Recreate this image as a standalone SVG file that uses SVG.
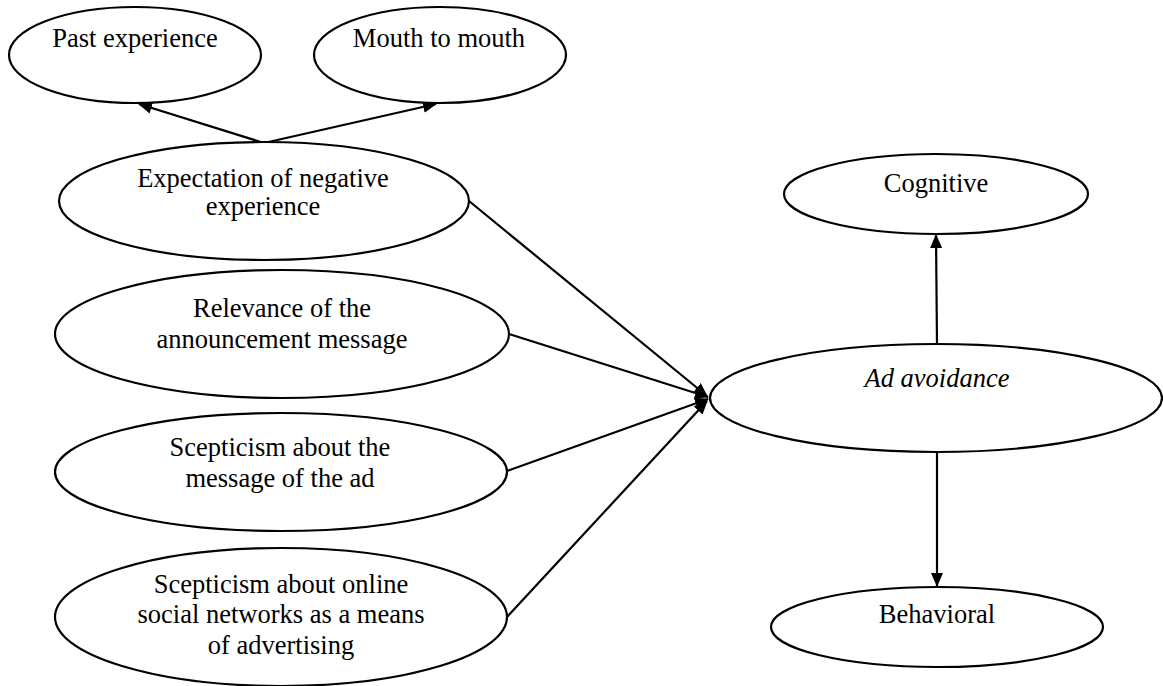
<svg xmlns="http://www.w3.org/2000/svg" width="1163" height="686" viewBox="0 0 1163 686">
<style>
.n ellipse{fill:#fff;stroke:#000;stroke-width:2.2}
text{font-family:"Liberation Serif","Times New Roman",serif;font-size:26.5px;fill:#000;text-anchor:middle}
.it{font-style:italic}
.c line{stroke:#000;stroke-width:2.2}
</style>
<defs>
<marker id="ah" viewBox="0 0 14 12" refX="13" refY="6" markerWidth="14" markerHeight="12" markerUnits="userSpaceOnUse" orient="auto">
<path d="M0,0 L14,6 L0,12 Z" fill="#000"/>
</marker>
</defs>
<g class="c">
<line x1="264" y1="143" x2="139" y2="104" marker-end="url(#ah)"/>
<line x1="264" y1="143" x2="436" y2="104" marker-end="url(#ah)"/>
<line x1="469" y1="201" x2="707" y2="396" marker-end="url(#ah)"/>
<line x1="509" y1="334" x2="708" y2="397" marker-end="url(#ah)"/>
<line x1="507" y1="471" x2="708" y2="399" marker-end="url(#ah)"/>
<line x1="507" y1="617" x2="707" y2="401" marker-end="url(#ah)"/>
<line x1="937" y1="344" x2="936" y2="235" marker-end="url(#ah)"/>
<line x1="937" y1="453" x2="937" y2="586" marker-end="url(#ah)"/>
</g>
<g id="past" class="n"><ellipse cx="135" cy="55" rx="126" ry="48"/><text x="135" y="47">Past experience</text></g>
<g id="mouth" class="n"><ellipse cx="440" cy="55" rx="126" ry="48"/><text x="439" y="47">Mouth to mouth</text></g>
<g id="expect" class="n"><ellipse cx="264" cy="201" rx="205" ry="59"/><text x="263" y="187">Expectation of negative</text><text x="263" y="215">experience</text></g>
<g id="relevance" class="n"><ellipse cx="282" cy="334" rx="227" ry="64"/><text x="282" y="317">Relevance of the</text><text x="282" y="348">announcement message</text></g>
<g id="scept1" class="n"><ellipse cx="281" cy="472" rx="226" ry="59"/><text x="280" y="456">Scepticism about the</text><text x="280" y="487">message of the ad</text></g>
<g id="scept2" class="n"><ellipse cx="281" cy="617" rx="226" ry="69"/><text x="281" y="593">Scepticism about online</text><text x="281" y="623">social networks as a means</text><text x="281" y="654">of advertising</text></g>
<g id="adavoid" class="n"><ellipse cx="936" cy="398" rx="226" ry="54"/><text class="it" x="937" y="387">Ad avoidance</text></g>
<g id="cognitive" class="n"><ellipse cx="936" cy="194" rx="152" ry="40"/><text x="936" y="192">Cognitive</text></g>
<g id="behavioral" class="n"><ellipse cx="937" cy="627" rx="166" ry="40"/><text x="937" y="623">Behavioral</text></g>
</svg>
